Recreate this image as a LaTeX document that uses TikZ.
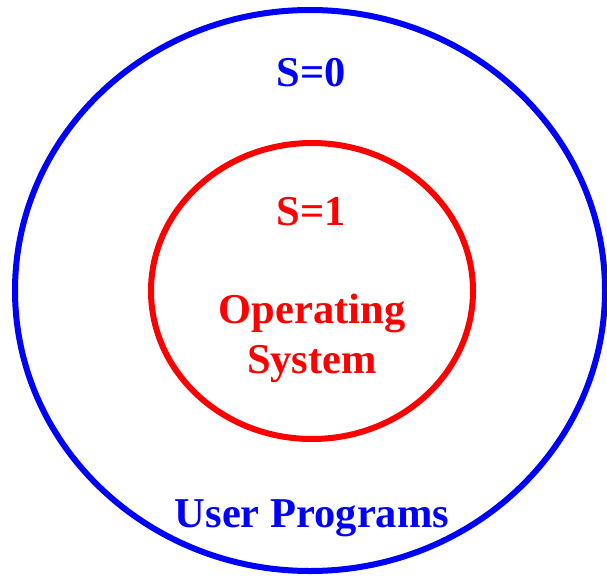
\documentclass[tikz,border=0pt]{standalone}
\usepackage{fontspec}
\setmainfont{Liberation Serif}
\begin{document}
\begin{tikzpicture}[x=1pt,y=-1pt,
  ring/.style={line width=6pt},
  lbl/.style={font=\fontsize{42.5}{50}\selectfont\bfseries, anchor=base, inner sep=0pt, align=center}]
\useasboundingbox (0,0) rectangle (607,575);
\draw[ring, blue] (310,290.5) ellipse [x radius=295, y radius=280.5];
\draw[ring, red] (312,291) ellipse [x radius=161, y radius=148];
\node[lbl, text=blue] (s0) at (311.5,87) {S=0};
\node[lbl, text=red] (s1) at (311.5,225) {S=1};
\node[lbl, text=red] (op) at (312,323) {Operating};
\node[lbl, text=red] (sys) at (312,373) {System};
\node[lbl, text=blue] (up) at (312,527) {User Programs};
\end{tikzpicture}
\end{document}
